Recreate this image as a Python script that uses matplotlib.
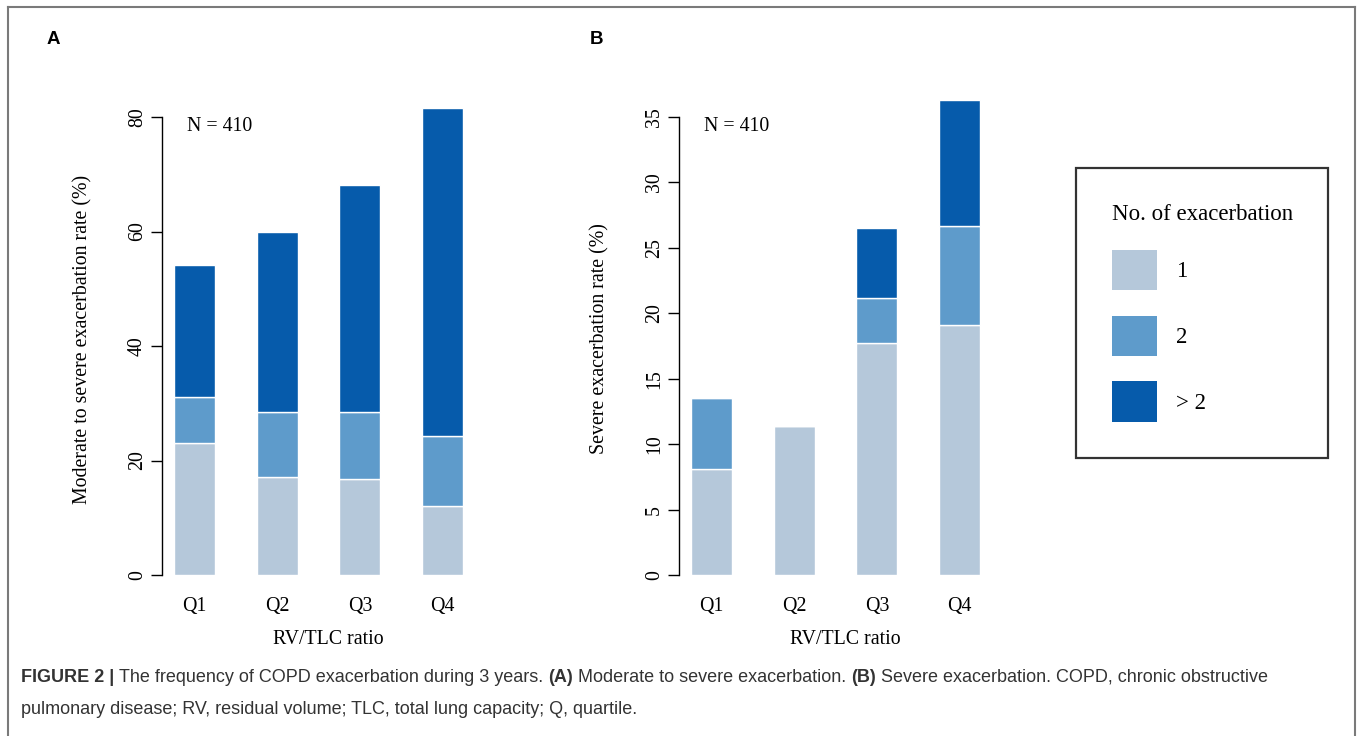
import numpy as np
import matplotlib
matplotlib.use("Agg")
import matplotlib.pyplot as plt
from matplotlib.patches import Patch
from matplotlib.lines import Line2D

# ---- data ----
quartiles = ["Q1", "Q2", "Q3", "Q4"]
levels = ["1", "2", "> 2"]

# (A) moderate to severe exacerbation rate (%), stacked layers
a_one = [23.0, 17.1, 16.8, 12.1]
a_two = [8.1, 11.4, 11.6, 12.1]
a_more = [23.0, 31.4, 39.8, 57.4]

# (B) severe exacerbation rate (%), stacked layers
b_one = [8.1, 11.4, 17.7, 19.1]
b_two = [5.4, 0.0, 3.5, 7.6]
b_more = [0.0, 0.0, 5.3, 9.6]

colors = ["#b5c8da", "#5e9bcb", "#065bab"]

W, H = 1357, 736
fig = plt.figure(figsize=(W / 100, H / 100), dpi=100)
serif = "Liberation Serif"
fs = 14.3


def px_axes(left, bottom, width, height):
    # pixel box (from top-left) -> figure fraction
    return fig.add_axes([left / W, 1 - bottom / H, width / W, height / H])


def stacked(ax, layers, ymax, yticks, ylabel):
    x = np.arange(len(quartiles))
    base = np.zeros(len(quartiles))
    for vals, c in zip(layers, colors):
        ax.bar(x, vals, width=0.495, bottom=base, color=c,
               edgecolor="white", linewidth=1.0)
        base = base + np.array(vals)
    ax.set_xlim(-0.39, 3.55)
    ax.set_ylim(0, ymax)
    for s in ["top", "right", "bottom"]:
        ax.spines[s].set_visible(False)
    ax.spines["left"].set_bounds(yticks[0], yticks[-1])
    ax.spines["left"].set_linewidth(1.0)
    ax.set_yticks(yticks)
    ax.set_yticklabels([str(t) for t in yticks], rotation=90, va="center",
                       family=serif, fontsize=fs)
    ax.tick_params(axis="y", length=8, width=1.0, pad=3)
    ax.set_xticks(x)
    ax.set_xticklabels(quartiles, family=serif, fontsize=fs)
    ax.tick_params(axis="x", length=0, pad=16)
    ax.set_ylabel(ylabel, family=serif, fontsize=fs)
    ax.yaxis.set_label_coords(-0.214, 0.485)
    ax.set_xlabel("RV/TLC ratio", family=serif, fontsize=fs)
    ax.xaxis.set_label_coords(0.51, -0.112)
    ax.text(-0.09, yticks[-1] - (ymax * 0.02), "N = 410", family=serif,
            fontsize=fs, va="center", ha="left")
    ax.patch.set_alpha(0)


ax_a = px_axes(162.3, 575, 3.94 * 82.7, 85 * 5.725)
stacked(ax_a, [a_one, a_two, a_more], 85, [0, 20, 40, 60, 80],
        "Moderate to severe exacerbation rate (%)")

ax_b = px_axes(679.3, 575, 3.94 * 82.7, 37.2 * 13.086)
stacked(ax_b, [b_one, b_two, b_more], 37.2, [0, 5, 10, 15, 20, 25, 30, 35],
        "Severe exacerbation rate (%)")

# panel letters
fig.text(47 / W, 1 - 40 / H, "A", family="Liberation Sans", weight="bold",
         fontsize=13.5, va="center", ha="left")
fig.text(590 / W, 1 - 40 / H, "B", family="Liberation Sans", weight="bold",
         fontsize=13.5, va="center", ha="left")

# legend
lfs = 16.5
handles = [Patch(facecolor=c, edgecolor="none") for c in colors]
leg = fig.legend(handles, levels, title="No. of exacerbation",
                 loc="upper left", bbox_to_anchor=(1076 / W, 1 - 168 / H),
                 borderaxespad=0,
                 prop={"family": serif, "size": lfs},
                 title_fontproperties={"family": serif, "size": lfs},
                 frameon=True, fancybox=False, edgecolor="black",
                 handlelength=1.97, handleheight=2.35, labelspacing=1.1,
                 handletextpad=0.85, borderpad=1.55, alignment="left")
leg.get_frame().set_linewidth(1.6)

# outer border (left, top, right)
border = "#7a7a7a"
fig.add_artist(Line2D([8 / W, 8 / W], [0, 1 - 7 / H], color=border, lw=1.5))
fig.add_artist(Line2D([8 / W, 1355 / W], [1 - 7 / H, 1 - 7 / H], color=border, lw=1.5))
fig.add_artist(Line2D([1355 / W, 1355 / W], [0, 1 - 7 / H], color=border, lw=1.5))

# caption with mixed weights
renderer = fig.canvas.get_renderer()
cap_fs = 13.0
cap_col = "#333333"


def width_of(s, weight):
    t = fig.text(0, 0, s, family="Liberation Sans", fontsize=cap_fs, weight=weight)
    w = t.get_window_extent(renderer).width
    t.remove()
    return w


space_w = width_of("x x", "normal") - width_of("xx", "normal")


def caption_line(x_px, y_px, parts):
    x = x_px
    for s, weight in parts:
        if s.startswith(" "):
            x += space_w
            s = s.lstrip()
        t = fig.text(x / W, 1 - y_px / H, s, family="Liberation Sans",
                     fontsize=cap_fs, weight=weight, color=cap_col, va="center")
        x += t.get_window_extent(renderer).width


caption_line(21, 677, [("FIGURE 2 |", "bold"),
                       (" The frequency of COPD exacerbation during 3 years.", "normal"),
                       (" (A)", "bold"),
                       (" Moderate to severe exacerbation.", "normal"),
                       (" (B)", "bold"),
                       (" Severe exacerbation. COPD, chronic obstructive", "normal")])
caption_line(21, 709, [("pulmonary disease; RV, residual volume; TLC, total lung capacity; Q, quartile.", "normal")])

fig.savefig("out.png", dpi=100)
